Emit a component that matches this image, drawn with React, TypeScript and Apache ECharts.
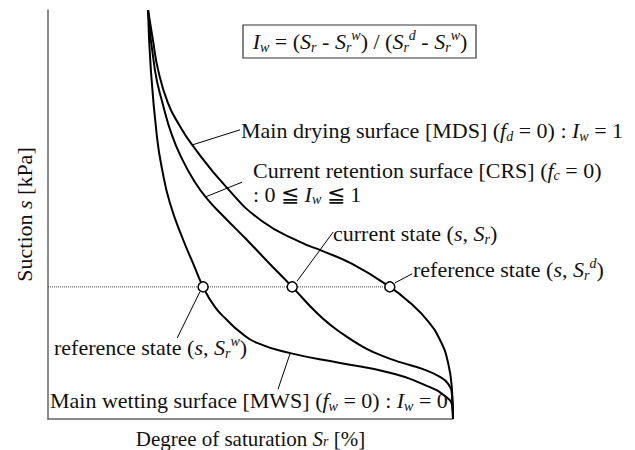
import React, { useEffect, useRef } from "react";
import * as echarts from "echarts";

const SERIF = '"Liberation Serif", "Times New Roman", serif';

// Retention surfaces: [degree of saturation Sr (%), suction (relative)]
const mainDryingSurface: number[][] = [
  [24.7, 100], [25.9, 92.7], [27.2, 85.3], [29.6, 77.3], [32.4, 71.9], [35.6, 67.0],
  [44.2, 56.5], [52.8, 48.4], [62.2, 43.3], [67.7, 41.1], [75.1, 37.9], [84.4, 32.3],
  [89.4, 28.4], [93.6, 24.2], [96.8, 19.3], [98.8, 13.7], [99.75, 7.1], [100, 0],
];
const currentRetentionSurface: number[][] = [
  [24.7, 100], [26.4, 85.3], [28.4, 76.8], [30.6, 69.4], [33.1, 63.6], [36.1, 58.2],
  [39.3, 53.8], [43.5, 49.4], [48.9, 44.0], [54.3, 38.4], [60.3, 32.3], [66.4, 25.9],
  [70.4, 22.5], [73.8, 20.1], [78.8, 17.1], [83.2, 15.2], [86.9, 13.9], [92.6, 12.2],
  [96.8, 10.3], [98.8, 8.6], [99.75, 5.9], [100, 0],
];
const mainWettingSurface: number[][] = [
  [24.7, 100], [25.4, 85.3], [26.9, 69.0], [28.2, 60.9], [30.1, 52.8], [33.1, 44.5],
  [35.8, 38.1], [38.3, 32.3], [41.2, 27.4], [44.2, 24.2], [47.4, 21.3], [51.6, 18.6],
  [59.8, 16.1], [72.1, 13.7], [84.4, 11.3], [94.3, 7.8], [98.0, 5.6], [99.75, 3.4],
  [100, 0],
];

// Current suction s and the saturations Sr^w, Sr, Sr^d at that suction
const stateSuction = 32.3;
const stateSaturation = [38.3, 60.3, 84.4];

// Leader lines [start, end] in data units: MDS, CRS, current, ref d, ref w, MWS
const leaderLines: number[][][] = [
  [[35.6, 67.0], [47.4, 70.7]],
  [[38.9, 54.3], [47.9, 57.9]],
  [[61.5, 33.7], [70.4, 45.7]],
  [[85.7, 33.3], [89.9, 35.5]],
  [[37.5, 31.1], [31.9, 19.8]],
  [[59.8, 16.1], [56.8, 7.3]],
];

// Label texts (rich-text markup)
const formulaText =
  "{i|I}{sub|w}{n| = (}{i|S}{sub|r}{n| - }{i|S}{sub|r}{sup|w}{n|) / (}{i|S}{sub|r}{sup|d}{n| - }{i|S}{sub|r}{sup|w}{n|)}";
const mdsText = "{n|Main drying surface [MDS] (}{i|f}{sub|d}{n| = 0) : }{i|I}{sub|w}{n| = 1}";
const crsText =
  "{n|Current retention surface [CRS] (}{i|f}{sub|c}{n| = 0)}\n{n|: 0 ≦ }{i|I}{sub|w}{n| ≦ 1}";
const currentText = "{n|current state (}{i|s}{n|, }{i|S}{sub|r}{n|)}";
const refDryText = "{n|reference state (}{i|s}{n|, }{i|S}{sub|r}{sup|d}{n|)}";
const refWetText = "{n|reference state (}{i|s}{n|, }{i|S}{sub|r}{sup|w}{n|)}";
const mwsText = "{n|Main wetting surface [MWS] (}{i|f}{sub|w}{n| = 0) : }{i|I}{sub|w}{n| = 0}";
const xAxisName = "{n|Degree of saturation }{i|S}{sub|r}{n| [%]}";
const yAxisName = "{n|Suction }{i|s}{n| [kPa]}";

const FS = 22;
const SUB = 14;
const INK = "#111";

// rich styles: zrender text (graphic) uses `fill`, axis names use `color`
function richStyles(colorKey: "fill" | "color", lh = 26, fs = FS, subLh = 14) {
  const base = { fontFamily: SERIF, [colorKey]: INK };
  return {
    n: { ...base, fontSize: fs, lineHeight: lh },
    i: { ...base, fontSize: fs, fontStyle: "italic", lineHeight: lh },
    sub: { ...base, fontSize: SUB, fontStyle: "italic", lineHeight: subLh, verticalAlign: "bottom" },
    sup: { ...base, fontSize: SUB, fontStyle: "italic", lineHeight: subLh, verticalAlign: "top" },
  };
}

function label(x: number, y: number, text: string, align = "left", lh = 26) {
  return {
    type: "text",
    x,
    y,
    silent: true,
    z: 10,
    style: {
      text,
      rich: richStyles("fill", lh),
      fill: INK,
      fontFamily: SERIF,
      fontSize: FS,
      align,
      verticalAlign: "middle",
      textAlign: align,
      textVerticalAlign: "middle",
    },
  };
}

const curveSeries = (name: string, data: number[][]) => ({
  name,
  type: "line",
  data,
  symbol: "none",
  smooth: 0.5,
  lineStyle: { color: "#000", width: 2 },
  z: 3,
});

export default function App() {
  const ref = useRef<HTMLDivElement>(null);

  useEffect(() => {
    if (!ref.current) return;
    const chart = echarts.init(ref.current, undefined, { renderer: "svg" });

    const axisCommon = {
      type: "value",
      min: 0,
      max: 100,
      axisLine: { show: true, lineStyle: { color: "#666", width: 1.5 } },
      axisTick: { show: false },
      axisLabel: { show: false },
      splitLine: { show: false },
      nameLocation: "middle",
    };

    chart.setOption({
      animation: false,
      backgroundColor: "#fff",
      grid: { left: 48, top: 10, width: 405, height: 409, outerBoundsMode: "none" },
      xAxis: {
        ...axisCommon,
        name: xAxisName,
        nameGap: 11,
        nameTextStyle: { rich: richStyles("color", 18, 21, 9) },
      },
      yAxis: {
        ...axisCommon,
        name: yAxisName,
        nameGap: 11,
        nameRotate: 90,
        nameTextStyle: { rich: richStyles("color") },
      },
      series: [
        {
          name: "suction level",
          type: "line",
          data: [[0, stateSuction], [stateSaturation[2], stateSuction]],
          symbol: "none",
          lineStyle: { color: "#444", width: 1, type: "dotted" },
          z: 2,
        },
        curveSeries("MDS", mainDryingSurface),
        curveSeries("CRS", currentRetentionSurface),
        curveSeries("MWS", mainWettingSurface),
        ...leaderLines.map((seg, k) => ({
          name: "leader" + k,
          type: "line",
          data: seg,
          symbol: "none",
          lineStyle: { color: "#000", width: 1 },
          z: 4,
        })),
        {
          name: "states",
          type: "scatter",
          data: stateSaturation.map((sr) => [sr, stateSuction]),
          symbol: "circle",
          symbolSize: 10,
          itemStyle: { color: "#fff", borderColor: "#000", borderWidth: 1.5, opacity: 1 },
          z: 6,
        },
      ],
      graphic: [
        {
          type: "rect",
          shape: { x: 243, y: 25, width: 233, height: 33 },
          style: { fill: "#fff", stroke: "#333", lineWidth: 1.2 },
          z: 9,
        },
        label(360, 41, formulaText, "center"),
        label(241, 130, mdsText),
        label(253, 182.5, crsText, "left", 24),
        label(333, 233, currentText),
        label(413, 269, refDryText),
        label(54, 347, refWetText),
        label(50, 400, mwsText),
      ],
    });

    return () => chart.dispose();
  }, []);

  return (
    <div
      ref={ref}
      style={{ position: "fixed", left: 0, top: 0, width: 635, height: 450, background: "#fff" }}
    />
  );
}
